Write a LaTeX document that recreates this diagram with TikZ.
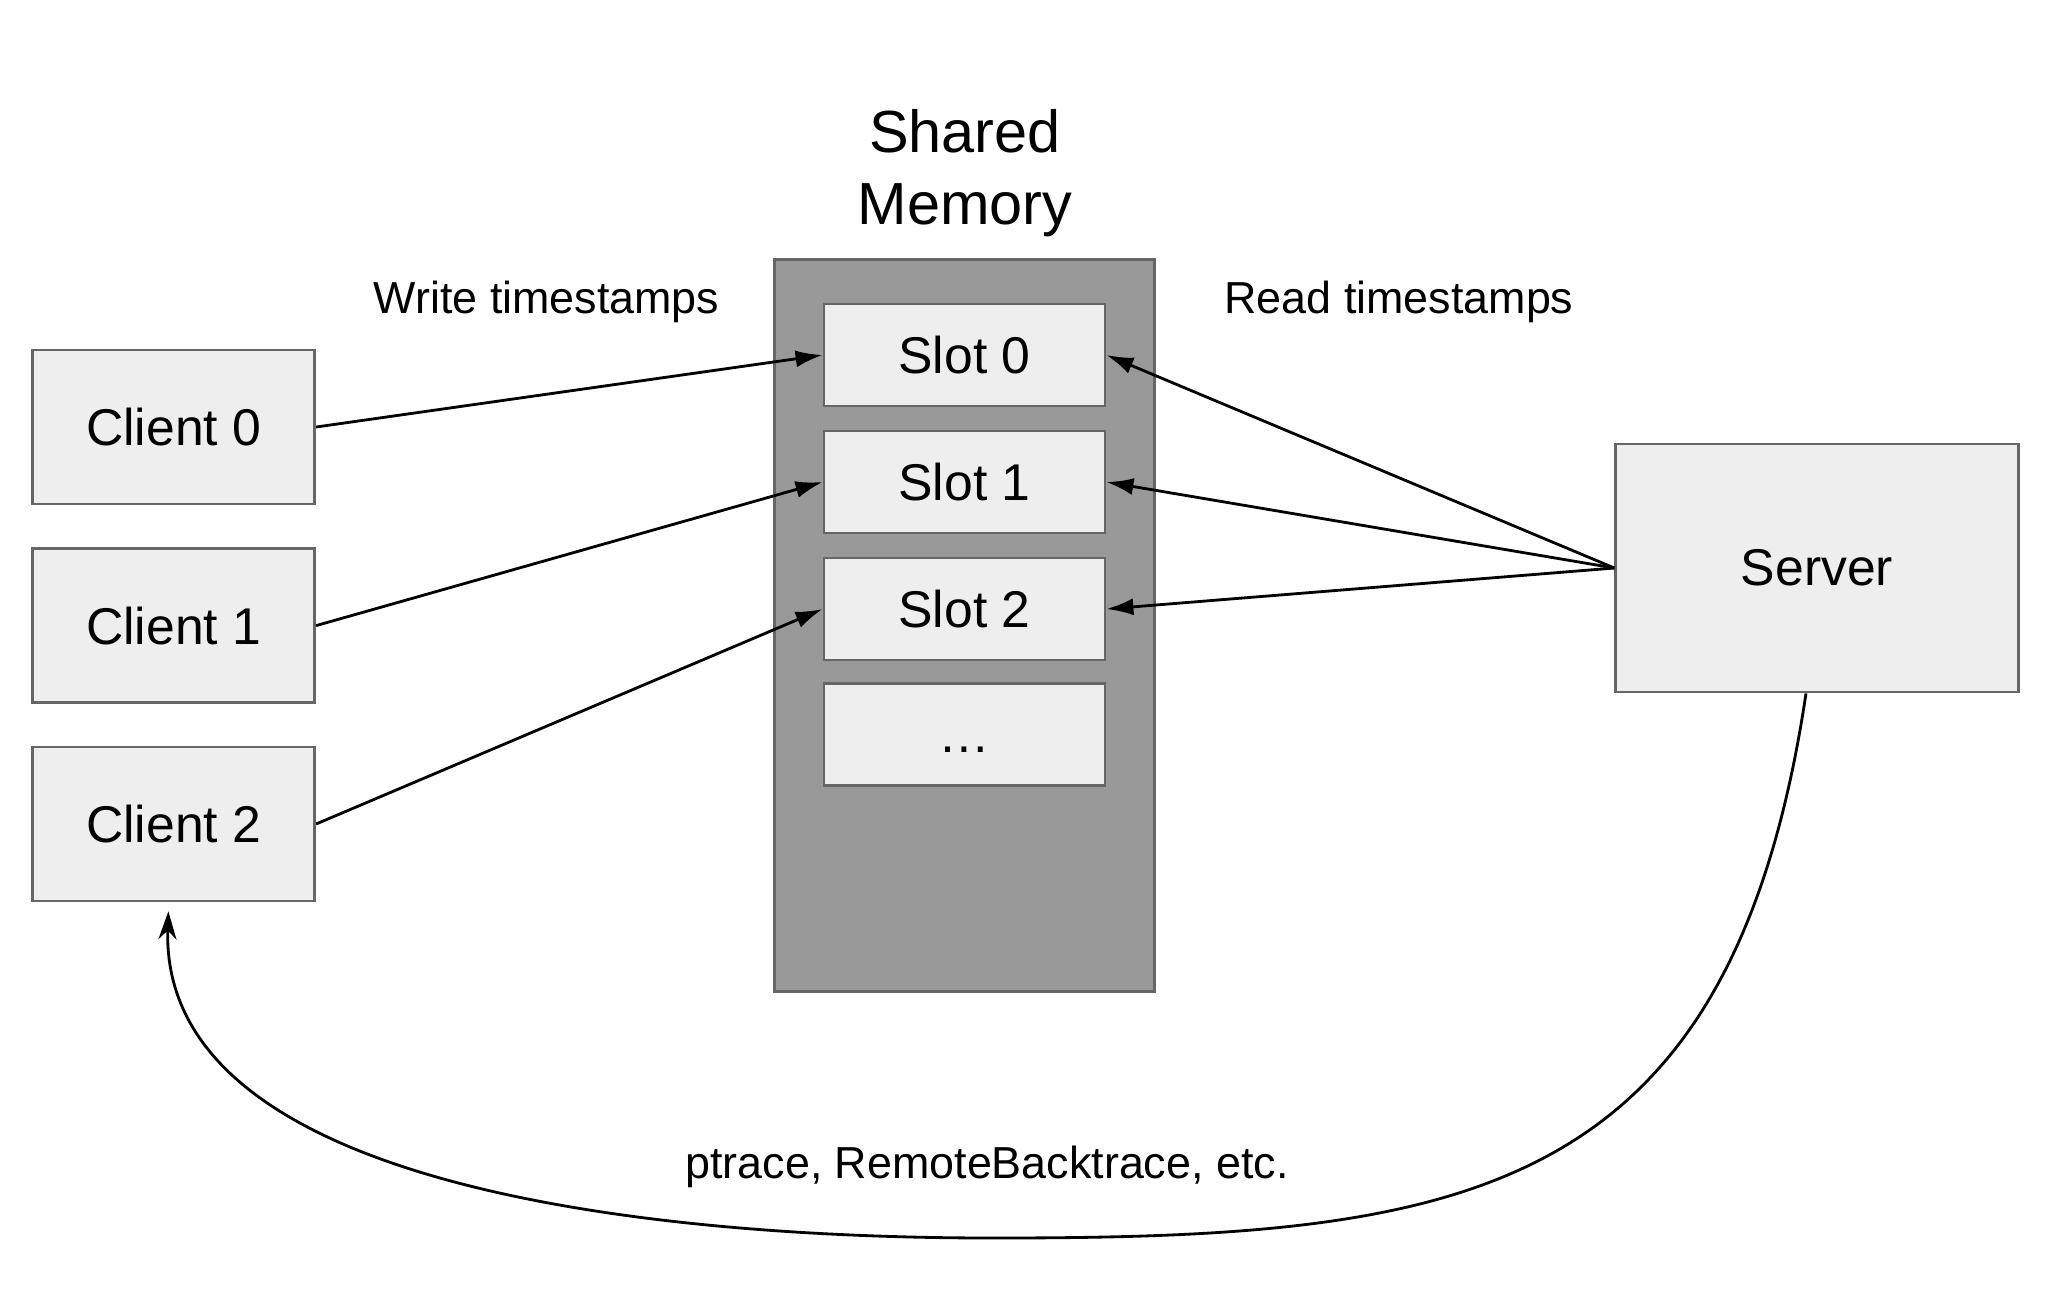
\documentclass[tikz,border=0pt]{standalone}
\usepackage{fontspec}
\setmainfont{Liberation Sans}
\usetikzlibrary{arrows.meta,calc}
\definecolor{boxfill}{HTML}{EEEEEE}
\definecolor{boxdraw}{HTML}{666666}
\definecolor{memfill}{HTML}{999999}
\begin{document}
\begin{tikzpicture}[x=0.01cm,y=-0.01cm,
  box/.style={draw=boxdraw, fill=boxfill, line width=0.75pt, inner sep=0pt, font=\fontsize{14.7}{17}\selectfont},
  clientbox/.style={box, minimum width=2.82cm, minimum height=1.54cm},
  slotbox/.style={box, minimum width=2.81cm, minimum height=1.02cm},
  lbl/.style={font=\fontsize{12.75}{15}\selectfont, inner sep=0pt, anchor=base},
  arr/.style={line width=0.8pt, -{Latex[length=2.7mm,width=1.7mm]}},
  ]
\useasboundingbox (0,0) rectangle (2048,1293);
\fill[white] (0,0) rectangle (2048,1293);

\node[clientbox] (c0) at (173.7,427) {Client 0};
\node[clientbox] (c1) at (173.7,625.6) {Client 1};
\node[clientbox] (c2) at (173.7,824) {Client 2};

\node[draw=boxdraw, fill=memfill, line width=0.75pt, inner sep=0pt, minimum width=3.80cm, minimum height=7.31cm] (mem) at (964.5,625.5) {};
\node[slotbox] (s0) at (964.5,355) {Slot 0};
\node[slotbox] (s1) at (964.5,482) {Slot 1};
\node[slotbox] (s2) at (964.5,609) {Slot 2};
\node[slotbox] (s3) at (964.5,734.5) {\vphantom{Slot 0}…};

\node[box, minimum width=4.025cm, minimum height=2.48cm] (server) at (1817,568) {Server};

\node[font=\fontsize{16.9}{20.4}\selectfont, align=center, inner sep=0pt] (title) at (965,173) {Shared\\Memory};

\node[lbl] (wl) at (546.6,313.5) {Write timestamps};
\node[lbl] (rl) at (1399,313.5) {Read timestamps};
\node[lbl] (pl) at (987,1178) {ptrace, RemoteBacktrace, etc.};

\draw[arr] (c0.east) -- (s0.west);
\draw[arr] (c1.east) -- (s1.west);
\draw[arr] (c2.east) -- (s2.west);
\draw[arr] (server.west) -- (s0.east);
\draw[arr] (server.west) -- (s1.east);
\draw[arr] (server.west) -- (s2.east);

\coordinate (bottom) at (993,1238);
\draw[line width=0.8pt, -{Stealth[length=2.8mm,width=1.8mm,inset=0.9mm]}, shorten >=0.9mm]
  ($(server.south)+(-11,0)$) .. controls (1730,1201) and (1463,1238) .. (bottom)
  .. controls (679,1238) and (159,1195) .. ($(c2.south)+(-5,0)$);
\end{tikzpicture}
\end{document}
